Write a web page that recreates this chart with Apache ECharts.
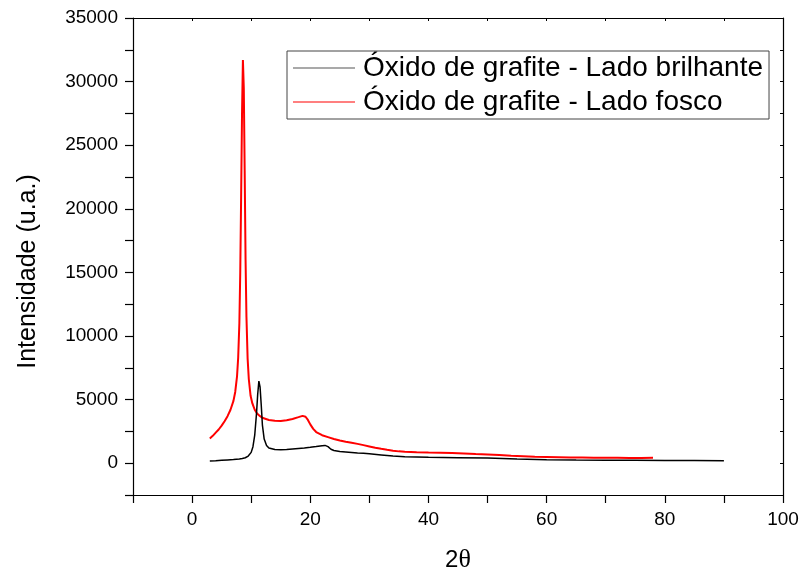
<!DOCTYPE html>
<html>
<head>
<meta charset="utf-8">
<script src="https://cdn.jsdelivr.net/npm/echarts@6/dist/echarts.min.js"></script>
<style>html,body{margin:0;padding:0;background:#fff}#c{width:802px;height:578px}</style>
</head>
<body>
<div id="c"></div>
<script>
// Óxido de grafite - Lado brilhante (black)
const brilhanteX = [3, 4, 5, 6, 7, 8, 8.5, 9, 9.5, 10, 10.3, 10.6, 10.9, 11.1, 11.3, 11.4, 11.5, 11.7, 11.9, 12.2, 12.6, 13, 14, 15, 16, 17, 18, 19, 20, 21, 22, 22.5, 23, 23.5, 24, 25, 26, 27, 28, 29, 30, 32, 34, 36, 38, 40, 45, 50, 55, 60, 65, 70, 75, 80, 85, 90];
const brilhanteY = [180, 200, 230, 260, 290, 330, 370, 430, 560, 850, 1300, 2200, 3900, 5400, 6450, 6500, 6000, 4600, 3000, 1900, 1400, 1200, 1080, 1050, 1080, 1120, 1160, 1200, 1250, 1310, 1380, 1400, 1300, 1100, 1000, 920, 880, 840, 800, 780, 740, 650, 560, 500, 480, 460, 430, 400, 330, 280, 250, 240, 230, 220, 210, 200];
// Óxido de grafite - Lado fosco (red)
const foscoX = [3, 3.5, 4, 4.5, 5, 5.5, 6, 6.5, 7, 7.3, 7.6, 7.8, 8.0, 8.15, 8.3, 8.45, 8.6, 8.75, 8.9, 9.05, 9.2, 9.4, 9.6, 9.9, 10.2, 10.6, 11, 11.5, 12, 13, 14, 15, 16, 17, 18, 18.7, 19.2, 19.6, 20, 20.5, 21, 22, 23, 24, 25, 26, 27, 28, 29, 30, 31, 32, 33, 34, 35, 36, 37, 38, 40, 42, 44, 46, 48, 50, 52, 54, 56, 58, 60, 62, 64, 66, 68, 70, 72, 74, 76, 78];
const foscoY = [1950, 2150, 2400, 2650, 2950, 3300, 3700, 4200, 4900, 5600, 6800, 8300, 11000, 15000, 21000, 27500, 31700, 29500, 23000, 16000, 11500, 8200, 6600, 5300, 4700, 4200, 3900, 3700, 3550, 3400, 3330, 3320, 3380, 3480, 3620, 3720, 3650, 3400, 3050, 2700, 2450, 2200, 2050, 1900, 1780, 1680, 1600, 1520, 1420, 1320, 1220, 1130, 1050, 980, 930, 900, 880, 860, 840, 830, 810, 770, 720, 680, 640, 590, 550, 510, 490, 470, 450, 440, 430, 420, 420, 410, 410, 420];
const seriesNames = ['Óxido de grafite - Lado brilhante', 'Óxido de grafite - Lado fosco'];
const xMin = -10, xMax = 100, xStep = 10;
const yMin = -2500, yMax = 35000, yStep = 2500;

const pair = (xs, ys) => xs.map((x, i) => [x, ys[i]]);
const FONT = 'Liberation Sans';
const axisCommon = {
  type: 'value', splitLine: {show: false},
  axisLine: {show: true, onZero: false, lineStyle: {color: '#000', width: 1.2}},
};
const chart = echarts.init(document.getElementById('c'), null, {renderer: 'canvas'});
chart.setOption({
  animation: false,
  backgroundColor: '#fff',
  grid: {left: 133, right: 19, top: 18, bottom: 77, containLabel: false},
  legend: {
    orient: 'vertical', left: 287, top: 51,
    borderColor: '#444', borderWidth: 1, padding: [1, 6, 1, 6],
    icon: 'rect', itemWidth: 62, itemHeight: 1.2, itemGap: 2,
    textStyle: {fontFamily: FONT, fontSize: 28, color: '#000', lineHeight: 32, padding: [0, 0, 0, 3]},
    data: [
      {name: seriesNames[0], itemStyle: {color: '#555'}},
      {name: seriesNames[1], itemStyle: {color: '#ff0000'}}
    ]
  },
  xAxis: [
    Object.assign({}, axisCommon, {
      position: 'bottom', min: xMin, max: xMax, interval: xStep,
      name: '{a|2}{b|θ}', nameLocation: 'middle', nameGap: 52,
      nameTextStyle: {rich: {a: {fontFamily: FONT, fontSize: 24, color: '#000'}, b: {fontFamily: 'Liberation Serif', fontSize: 26, color: '#000'}}},
      axisTick: {show: true, inside: false, length: 8, lineStyle: {color: '#000', width: 1.2}},
      axisLabel: {margin: 15, fontFamily: FONT, fontSize: 19, color: '#000',
        formatter: v => (v >= 0 && v % 20 === 0) ? String(v) : ''}
    }),
    Object.assign({}, axisCommon, {
      position: 'top', min: xMin, max: xMax, interval: xStep,
      axisTick: {show: true, inside: true, length: 3, lineStyle: {color: '#000'}},
      axisLabel: {show: false}
    })
  ],
  yAxis: [
    Object.assign({}, axisCommon, {
      position: 'left', min: yMin, max: yMax, interval: yStep,
      name: 'Intensidade (u.a.)', nameLocation: 'middle', nameGap: 92,
      nameTextStyle: {fontFamily: FONT, fontSize: 25, color: '#000', padding: [0, 30, 0, 0]},
      axisTick: {show: true, inside: false, length: 8, lineStyle: {color: '#000', width: 1.2}},
      axisLabel: {margin: 15, fontFamily: FONT, fontSize: 19, color: '#000',
        formatter: v => (v >= 0 && v % 5000 === 0) ? String(v) : ''}
    }),
    Object.assign({}, axisCommon, {
      position: 'right', min: yMin, max: yMax, interval: yStep,
      axisTick: {show: true, inside: true, length: 3, lineStyle: {color: '#000'}},
      axisLabel: {show: false}
    })
  ],
  series: [
    {name: seriesNames[0], type: 'line', xAxisIndex: 0, yAxisIndex: 0, symbol: 'none',
     data: pair(brilhanteX, brilhanteY), lineStyle: {color: '#000', width: 1.5}, itemStyle: {color: '#000'}, z: 3},
    {name: seriesNames[1], type: 'line', xAxisIndex: 0, yAxisIndex: 0, symbol: 'none',
     data: pair(foscoX, foscoY), lineStyle: {color: '#ff0000', width: 2}, itemStyle: {color: '#ff0000'}, z: 2}
  ]
});
</script>
</body>
</html>
